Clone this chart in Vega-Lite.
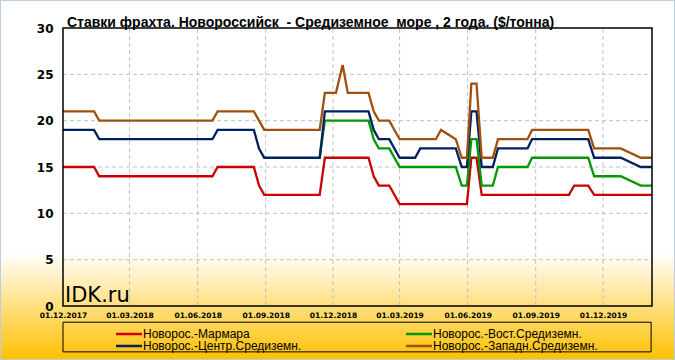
{
  "$schema": "https://vega.github.io/schema/vega-lite/v6.json",
  "width": 675,
  "height": 360,
  "autosize": {"type": "none"},
  "padding": 0,
  "background": "white",
  "title": {
    "text": "Ставки фрахта. Новороссийск\u00a0 - Средиземное\u00a0 море , 2 года. ($/тонна)",
    "anchor": "start",
    "frame": "group",
    "orient": "top",
    "offset": -41,
    "dx": 67,
    "baseline": "alphabetic",
    "font": "Liberation Sans",
    "fontSize": 14,
    "fontWeight": "bold",
    "color": "black"
  },
  "config": {
    "view": {
      "fill": {
        "gradient": "linear",
        "x1": 0, "y1": 0, "x2": 0, "y2": 1,
        "stops": [
          {"offset": 0, "color": "#FFFFFF"},
          {"offset": 0.7, "color": "#FFFFFF"},
          {"offset": 1, "color": "#FFC000"}
        ]
      },
      "stroke": "#BCCCE4",
      "strokeWidth": 2
    },
    "axis": {
      "title": null, "domain": false, "ticks": false, "grid": false,
      "labelColor": "black", "labelFontWeight": "bold", "labelFont": "DejaVu Sans",
      "labelOverlap": false, "labelFlush": false, "labelBound": false
    }
  },
  "datasets": {
    "series": [
      {"series": "Новорос.-Мармара", "date": "2017-12-01", "value": 15},
      {"series": "Новорос.-Мармара", "date": "2018-01-12", "value": 15},
      {"series": "Новорос.-Мармара", "date": "2018-01-19", "value": 14},
      {"series": "Новорос.-Мармара", "date": "2018-06-21", "value": 14},
      {"series": "Новорос.-Мармара", "date": "2018-06-28", "value": 15},
      {"series": "Новорос.-Мармара", "date": "2018-08-16", "value": 15},
      {"series": "Новорос.-Мармара", "date": "2018-08-23", "value": 13},
      {"series": "Новорос.-Мармара", "date": "2018-08-30", "value": 12},
      {"series": "Новорос.-Мармара", "date": "2018-11-13", "value": 12},
      {"series": "Новорос.-Мармара", "date": "2018-11-20", "value": 16},
      {"series": "Новорос.-Мармара", "date": "2019-01-18", "value": 16},
      {"series": "Новорос.-Мармара", "date": "2019-01-25", "value": 14},
      {"series": "Новорос.-Мармара", "date": "2019-02-01", "value": 13},
      {"series": "Новорос.-Мармара", "date": "2019-02-15", "value": 13},
      {"series": "Новорос.-Мармара", "date": "2019-03-01", "value": 11},
      {"series": "Новорос.-Мармара", "date": "2019-05-31", "value": 11},
      {"series": "Новорос.-Мармара", "date": "2019-06-06", "value": 16},
      {"series": "Новорос.-Мармара", "date": "2019-06-13", "value": 16},
      {"series": "Новорос.-Мармара", "date": "2019-06-20", "value": 12},
      {"series": "Новорос.-Мармара", "date": "2019-10-16", "value": 12},
      {"series": "Новорос.-Мармара", "date": "2019-10-23", "value": 13},
      {"series": "Новорос.-Мармара", "date": "2019-11-11", "value": 13},
      {"series": "Новорос.-Мармара", "date": "2019-11-19", "value": 12},
      {"series": "Новорос.-Мармара", "date": "2020-02-05", "value": 12},

      {"series": "Новорос.-Вост.Средиземн.", "date": "2018-11-13", "value": 16},
      {"series": "Новорос.-Вост.Средиземн.", "date": "2018-11-20", "value": 20},
      {"series": "Новорос.-Вост.Средиземн.", "date": "2019-01-18", "value": 20},
      {"series": "Новорос.-Вост.Средиземн.", "date": "2019-01-25", "value": 18},
      {"series": "Новорос.-Вост.Средиземн.", "date": "2019-02-01", "value": 17},
      {"series": "Новорос.-Вост.Средиземн.", "date": "2019-02-15", "value": 17},
      {"series": "Новорос.-Вост.Средиземн.", "date": "2019-03-01", "value": 15},
      {"series": "Новорос.-Вост.Средиземн.", "date": "2019-05-16", "value": 15},
      {"series": "Новорос.-Вост.Средиземн.", "date": "2019-05-24", "value": 13},
      {"series": "Новорос.-Вост.Средиземн.", "date": "2019-05-31", "value": 13},
      {"series": "Новорос.-Вост.Средиземн.", "date": "2019-06-06", "value": 18},
      {"series": "Новорос.-Вост.Средиземн.", "date": "2019-06-13", "value": 18},
      {"series": "Новорос.-Вост.Средиземн.", "date": "2019-06-20", "value": 13},
      {"series": "Новорос.-Вост.Средиземн.", "date": "2019-07-05", "value": 13},
      {"series": "Новорос.-Вост.Средиземн.", "date": "2019-07-12", "value": 15},
      {"series": "Новорос.-Вост.Средиземн.", "date": "2019-08-21", "value": 15},
      {"series": "Новорос.-Вост.Средиземн.", "date": "2019-08-27", "value": 16},
      {"series": "Новорос.-Вост.Средиземн.", "date": "2019-11-11", "value": 16},
      {"series": "Новорос.-Вост.Средиземн.", "date": "2019-11-19", "value": 14},
      {"series": "Новорос.-Вост.Средиземн.", "date": "2019-12-25", "value": 14},
      {"series": "Новорос.-Вост.Средиземн.", "date": "2020-01-21", "value": 13},
      {"series": "Новорос.-Вост.Средиземн.", "date": "2020-02-05", "value": 13},

      {"series": "Новорос.-Центр.Средиземн.", "date": "2017-12-01", "value": 19},
      {"series": "Новорос.-Центр.Средиземн.", "date": "2018-01-12", "value": 19},
      {"series": "Новорос.-Центр.Средиземн.", "date": "2018-01-19", "value": 18},
      {"series": "Новорос.-Центр.Средиземн.", "date": "2018-06-21", "value": 18},
      {"series": "Новорос.-Центр.Средиземн.", "date": "2018-06-28", "value": 19},
      {"series": "Новорос.-Центр.Средиземн.", "date": "2018-08-16", "value": 19},
      {"series": "Новорос.-Центр.Средиземн.", "date": "2018-08-23", "value": 17},
      {"series": "Новорос.-Центр.Средиземн.", "date": "2018-08-30", "value": 16},
      {"series": "Новорос.-Центр.Средиземн.", "date": "2018-11-13", "value": 16},
      {"series": "Новорос.-Центр.Средиземн.", "date": "2018-11-20", "value": 21},
      {"series": "Новорос.-Центр.Средиземн.", "date": "2019-01-18", "value": 21},
      {"series": "Новорос.-Центр.Средиземн.", "date": "2019-01-25", "value": 19},
      {"series": "Новорос.-Центр.Средиземн.", "date": "2019-02-01", "value": 18},
      {"series": "Новорос.-Центр.Средиземн.", "date": "2019-02-15", "value": 18},
      {"series": "Новорос.-Центр.Средиземн.", "date": "2019-03-01", "value": 16},
      {"series": "Новорос.-Центр.Средиземн.", "date": "2019-03-22", "value": 16},
      {"series": "Новорос.-Центр.Средиземн.", "date": "2019-03-29", "value": 17},
      {"series": "Новорос.-Центр.Средиземн.", "date": "2019-05-16", "value": 17},
      {"series": "Новорос.-Центр.Средиземн.", "date": "2019-05-24", "value": 15},
      {"series": "Новорос.-Центр.Средиземн.", "date": "2019-05-31", "value": 15},
      {"series": "Новорос.-Центр.Средиземн.", "date": "2019-06-06", "value": 21},
      {"series": "Новорос.-Центр.Средиземн.", "date": "2019-06-13", "value": 21},
      {"series": "Новорос.-Центр.Средиземн.", "date": "2019-06-20", "value": 15},
      {"series": "Новорос.-Центр.Средиземн.", "date": "2019-07-05", "value": 15},
      {"series": "Новорос.-Центр.Средиземн.", "date": "2019-07-12", "value": 17},
      {"series": "Новорос.-Центр.Средиземн.", "date": "2019-08-21", "value": 17},
      {"series": "Новорос.-Центр.Средиземн.", "date": "2019-08-27", "value": 18},
      {"series": "Новорос.-Центр.Средиземн.", "date": "2019-11-11", "value": 18},
      {"series": "Новорос.-Центр.Средиземн.", "date": "2019-11-19", "value": 16},
      {"series": "Новорос.-Центр.Средиземн.", "date": "2019-12-25", "value": 16},
      {"series": "Новорос.-Центр.Средиземн.", "date": "2020-01-21", "value": 15},
      {"series": "Новорос.-Центр.Средиземн.", "date": "2020-02-05", "value": 15},

      {"series": "Новорос.-Западн.Средиземн.", "date": "2017-12-01", "value": 21},
      {"series": "Новорос.-Западн.Средиземн.", "date": "2018-01-12", "value": 21},
      {"series": "Новорос.-Западн.Средиземн.", "date": "2018-01-19", "value": 20},
      {"series": "Новорос.-Западн.Средиземн.", "date": "2018-06-21", "value": 20},
      {"series": "Новорос.-Западн.Средиземн.", "date": "2018-06-28", "value": 21},
      {"series": "Новорос.-Западн.Средиземн.", "date": "2018-08-16", "value": 21},
      {"series": "Новорос.-Западн.Средиземн.", "date": "2018-08-23", "value": 20},
      {"series": "Новорос.-Западн.Средиземн.", "date": "2018-08-30", "value": 19},
      {"series": "Новорос.-Западн.Средиземн.", "date": "2018-11-13", "value": 19},
      {"series": "Новорос.-Западн.Средиземн.", "date": "2018-11-20", "value": 23},
      {"series": "Новорос.-Западн.Средиземн.", "date": "2018-12-05", "value": 23},
      {"series": "Новорос.-Западн.Средиземн.", "date": "2018-12-14", "value": 26},
      {"series": "Новорос.-Западн.Средиземн.", "date": "2018-12-21", "value": 23},
      {"series": "Новорос.-Западн.Средиземн.", "date": "2019-01-18", "value": 23},
      {"series": "Новорос.-Западн.Средиземн.", "date": "2019-01-25", "value": 21},
      {"series": "Новорос.-Западн.Средиземн.", "date": "2019-02-01", "value": 20},
      {"series": "Новорос.-Западн.Средиземн.", "date": "2019-02-15", "value": 20},
      {"series": "Новорос.-Западн.Средиземн.", "date": "2019-03-01", "value": 18},
      {"series": "Новорос.-Западн.Средиземн.", "date": "2019-04-19", "value": 18},
      {"series": "Новорос.-Западн.Средиземн.", "date": "2019-04-26", "value": 19},
      {"series": "Новорос.-Западн.Средиземн.", "date": "2019-05-16", "value": 18},
      {"series": "Новорос.-Западн.Средиземн.", "date": "2019-05-24", "value": 16},
      {"series": "Новорос.-Западн.Средиземн.", "date": "2019-05-31", "value": 16},
      {"series": "Новорос.-Западн.Средиземн.", "date": "2019-06-06", "value": 24},
      {"series": "Новорос.-Западн.Средиземн.", "date": "2019-06-13", "value": 24},
      {"series": "Новорос.-Западн.Средиземн.", "date": "2019-06-20", "value": 16},
      {"series": "Новорос.-Западн.Средиземн.", "date": "2019-07-05", "value": 16},
      {"series": "Новорос.-Западн.Средиземн.", "date": "2019-07-12", "value": 18},
      {"series": "Новорос.-Западн.Средиземн.", "date": "2019-08-21", "value": 18},
      {"series": "Новорос.-Западн.Средиземн.", "date": "2019-08-27", "value": 19},
      {"series": "Новорос.-Западн.Средиземн.", "date": "2019-11-11", "value": 19},
      {"series": "Новорос.-Западн.Средиземн.", "date": "2019-11-19", "value": 17},
      {"series": "Новорос.-Западн.Средиземн.", "date": "2019-12-25", "value": 17},
      {"series": "Новорос.-Западн.Средиземн.", "date": "2020-01-21", "value": 16},
      {"series": "Новорос.-Западн.Средиземн.", "date": "2020-02-05", "value": 16}
    ],
    "ygrid": [{"v": 5}, {"v": 10}, {"v": 15}, {"v": 20}, {"v": 25}],
    "xgrid": [
      {"d": "2018-03-01"}, {"d": "2018-06-01"}, {"d": "2018-09-01"}, {"d": "2018-12-01"},
      {"d": "2019-03-01"}, {"d": "2019-06-01"}, {"d": "2019-09-01"}, {"d": "2019-12-01"}
    ],
    "one": [{"t": "IDK.ru"}]
  },
  "layer": [
    {
      "data": {"name": "ygrid"},
      "mark": {"type": "rule", "color": "#C0C0C0", "strokeWidth": 1, "strokeDash": [4, 3]},
      "encoding": {
        "y": {"field": "v", "type": "quantitative", "scale": {"domain": [-5.8273, 33.0216], "nice": false, "zero": false},
              "axis": {"orient": "left", "offset": -63, "values": [0, 5, 10, 15, 20, 25, 30], "labelFontSize": 12, "labelPadding": 10}},
        "x": {"datum": {"year": 2017, "month": 12, "date": 1, "utc": true}, "type": "temporal",
              "scale": {"type": "utc", "nice": false, "domain": [{"year": 2017, "month": 9, "date": 6, "hours": 20, "utc": true}, {"year": 2020, "month": 3, "date": 7, "hours": 7, "utc": true}]},
              "axis": {"orient": "bottom", "offset": -54, "format": "%d.%m.%Y", "labelFontSize": 7.5, "labelPadding": 5,
                "values": [{"year": 2017, "month": 12, "date": 1, "utc": true}, {"year": 2018, "month": 3, "date": 1, "utc": true}, {"year": 2018, "month": 6, "date": 1, "utc": true}, {"year": 2018, "month": 9, "date": 1, "utc": true}, {"year": 2018, "month": 12, "date": 1, "utc": true}, {"year": 2019, "month": 3, "date": 1, "utc": true}, {"year": 2019, "month": 6, "date": 1, "utc": true}, {"year": 2019, "month": 9, "date": 1, "utc": true}, {"year": 2019, "month": 12, "date": 1, "utc": true}]}},
        "x2": {"datum": {"year": 2020, "month": 2, "date": 5, "hours": 5, "utc": true}}
      }
    },
    {
      "data": {"name": "xgrid"},
      "mark": {"type": "rule", "color": "#C0C0C0", "strokeWidth": 1, "strokeDash": [4, 3]},
      "encoding": {
        "x": {"field": "d", "type": "temporal",
              "scale": {"type": "utc", "nice": false, "domain": [{"year": 2017, "month": 9, "date": 6, "hours": 20, "utc": true}, {"year": 2020, "month": 3, "date": 7, "hours": 7, "utc": true}]},
              "axis": {"orient": "bottom", "offset": -54, "format": "%d.%m.%Y", "labelFontSize": 7.5, "labelPadding": 5,
                "values": [{"year": 2017, "month": 12, "date": 1, "utc": true}, {"year": 2018, "month": 3, "date": 1, "utc": true}, {"year": 2018, "month": 6, "date": 1, "utc": true}, {"year": 2018, "month": 9, "date": 1, "utc": true}, {"year": 2018, "month": 12, "date": 1, "utc": true}, {"year": 2019, "month": 3, "date": 1, "utc": true}, {"year": 2019, "month": 6, "date": 1, "utc": true}, {"year": 2019, "month": 9, "date": 1, "utc": true}, {"year": 2019, "month": 12, "date": 1, "utc": true}]}},
        "y": {"datum": 0, "type": "quantitative", "scale": {"domain": [-5.8273, 33.0216], "nice": false, "zero": false},
              "axis": {"orient": "left", "offset": -63, "values": [0, 5, 10, 15, 20, 25, 30], "labelFontSize": 12, "labelPadding": 10}},
        "y2": {"datum": 30}
      }
    },
    {
      "data": {"name": "series"},
      "mark": {"type": "line", "strokeWidth": 2.3, "interpolate": "linear"},
      "encoding": {
        "x": {"field": "date", "type": "temporal",
              "scale": {"type": "utc", "nice": false, "domain": [{"year": 2017, "month": 9, "date": 6, "hours": 20, "utc": true}, {"year": 2020, "month": 3, "date": 7, "hours": 7, "utc": true}]},
              "axis": {"orient": "bottom", "offset": -54, "format": "%d.%m.%Y", "labelFontSize": 7.5, "labelPadding": 5,
                "values": [{"year": 2017, "month": 12, "date": 1, "utc": true}, {"year": 2018, "month": 3, "date": 1, "utc": true}, {"year": 2018, "month": 6, "date": 1, "utc": true}, {"year": 2018, "month": 9, "date": 1, "utc": true}, {"year": 2018, "month": 12, "date": 1, "utc": true}, {"year": 2019, "month": 3, "date": 1, "utc": true}, {"year": 2019, "month": 6, "date": 1, "utc": true}, {"year": 2019, "month": 9, "date": 1, "utc": true}, {"year": 2019, "month": 12, "date": 1, "utc": true}]}},
        "y": {"field": "value", "type": "quantitative",
              "scale": {"domain": [-5.8273, 33.0216], "nice": false, "zero": false},
              "axis": {"orient": "left", "offset": -63, "values": [0, 5, 10, 15, 20, 25, 30], "labelFontSize": 12, "labelPadding": 10}},
        "color": {"field": "series", "type": "nominal",
          "scale": {
            "domain": ["Новорос.-Мармара", "Новорос.-Вост.Средиземн.", "Новорос.-Центр.Средиземн.", "Новорос.-Западн.Средиземн."],
            "range": ["#CC0000", "#009A00", "#00205F", "#A0500F"]
          },
          "legend": {
            "orient": "none", "legendX": 113, "legendY": 328, "columns": 2, "direction": "horizontal", "title": null,
            "symbolType": "M-4.33,0H4.33", "symbolSize": 36, "symbolStrokeWidth": 2.5, "symbolOffset": 10,
            "labelFont": "Liberation Sans", "labelFontSize": 12, "labelColor": "black", "labelLimit": 400,
            "labelOffset": 8, "columnPadding": 99, "rowPadding": 0, "padding": 0
          }}
      }
    },
    {
      "data": {"name": "one"},
      "mark": {"type": "rect", "fill": "transparent", "stroke": "black", "strokeWidth": 1.5},
      "encoding": {
        "x": {"datum": {"year": 2017, "month": 12, "date": 1, "utc": true}, "type": "temporal",
              "scale": {"type": "utc", "nice": false, "domain": [{"year": 2017, "month": 9, "date": 6, "hours": 20, "utc": true}, {"year": 2020, "month": 3, "date": 7, "hours": 7, "utc": true}]},
              "axis": {"orient": "bottom", "offset": -54, "format": "%d.%m.%Y", "labelFontSize": 7.5, "labelPadding": 5,
                "values": [{"year": 2017, "month": 12, "date": 1, "utc": true}, {"year": 2018, "month": 3, "date": 1, "utc": true}, {"year": 2018, "month": 6, "date": 1, "utc": true}, {"year": 2018, "month": 9, "date": 1, "utc": true}, {"year": 2018, "month": 12, "date": 1, "utc": true}, {"year": 2019, "month": 3, "date": 1, "utc": true}, {"year": 2019, "month": 6, "date": 1, "utc": true}, {"year": 2019, "month": 9, "date": 1, "utc": true}, {"year": 2019, "month": 12, "date": 1, "utc": true}]}},
        "x2": {"datum": {"year": 2020, "month": 2, "date": 5, "hours": 5, "utc": true}},
        "y": {"datum": 0, "type": "quantitative", "scale": {"domain": [-5.8273, 33.0216], "nice": false, "zero": false},
              "axis": {"orient": "left", "offset": -63, "values": [0, 5, 10, 15, 20, 25, 30], "labelFontSize": 12, "labelPadding": 10}},
        "y2": {"datum": 30}
      }
    },
    {
      "data": {"name": "one"},
      "mark": {"type": "rect", "fill": "transparent", "stroke": "black", "strokeWidth": 1},
      "encoding": {
        "x": {"datum": {"year": 2017, "month": 12, "date": 1, "utc": true}, "type": "temporal",
              "scale": {"type": "utc", "nice": false, "domain": [{"year": 2017, "month": 9, "date": 6, "hours": 20, "utc": true}, {"year": 2020, "month": 3, "date": 7, "hours": 7, "utc": true}]},
              "axis": {"orient": "bottom", "offset": -54, "format": "%d.%m.%Y", "labelFontSize": 7.5, "labelPadding": 5,
                "values": [{"year": 2017, "month": 12, "date": 1, "utc": true}, {"year": 2018, "month": 3, "date": 1, "utc": true}, {"year": 2018, "month": 6, "date": 1, "utc": true}, {"year": 2018, "month": 9, "date": 1, "utc": true}, {"year": 2018, "month": 12, "date": 1, "utc": true}, {"year": 2019, "month": 3, "date": 1, "utc": true}, {"year": 2019, "month": 6, "date": 1, "utc": true}, {"year": 2019, "month": 9, "date": 1, "utc": true}, {"year": 2019, "month": 12, "date": 1, "utc": true}]}},
        "x2": {"datum": {"year": 2020, "month": 2, "date": 4, "utc": true}},
        "y": {"datum": -1.75, "type": "quantitative", "scale": {"domain": [-5.8273, 33.0216], "nice": false, "zero": false},
              "axis": {"orient": "left", "offset": -63, "values": [0, 5, 10, 15, 20, 25, 30], "labelFontSize": 12, "labelPadding": 10}},
        "y2": {"datum": -4.95}
      }
    },
    {
      "data": {"name": "one"},
      "mark": {"type": "text", "font": "DejaVu Sans", "fontSize": 21, "align": "left", "baseline": "alphabetic", "dx": 2, "dy": -4, "color": "black"},
      "encoding": {
        "text": {"field": "t"},
        "x": {"datum": {"year": 2017, "month": 12, "date": 1, "utc": true}, "type": "temporal",
              "scale": {"type": "utc", "nice": false, "domain": [{"year": 2017, "month": 9, "date": 6, "hours": 20, "utc": true}, {"year": 2020, "month": 3, "date": 7, "hours": 7, "utc": true}]},
              "axis": {"orient": "bottom", "offset": -54, "format": "%d.%m.%Y", "labelFontSize": 7.5, "labelPadding": 5,
                "values": [{"year": 2017, "month": 12, "date": 1, "utc": true}, {"year": 2018, "month": 3, "date": 1, "utc": true}, {"year": 2018, "month": 6, "date": 1, "utc": true}, {"year": 2018, "month": 9, "date": 1, "utc": true}, {"year": 2018, "month": 12, "date": 1, "utc": true}, {"year": 2019, "month": 3, "date": 1, "utc": true}, {"year": 2019, "month": 6, "date": 1, "utc": true}, {"year": 2019, "month": 9, "date": 1, "utc": true}, {"year": 2019, "month": 12, "date": 1, "utc": true}]}},
        "y": {"datum": 0, "type": "quantitative", "scale": {"domain": [-5.8273, 33.0216], "nice": false, "zero": false},
              "axis": {"orient": "left", "offset": -63, "values": [0, 5, 10, 15, 20, 25, 30], "labelFontSize": 12, "labelPadding": 10}}
      }
    }
  ]
}
